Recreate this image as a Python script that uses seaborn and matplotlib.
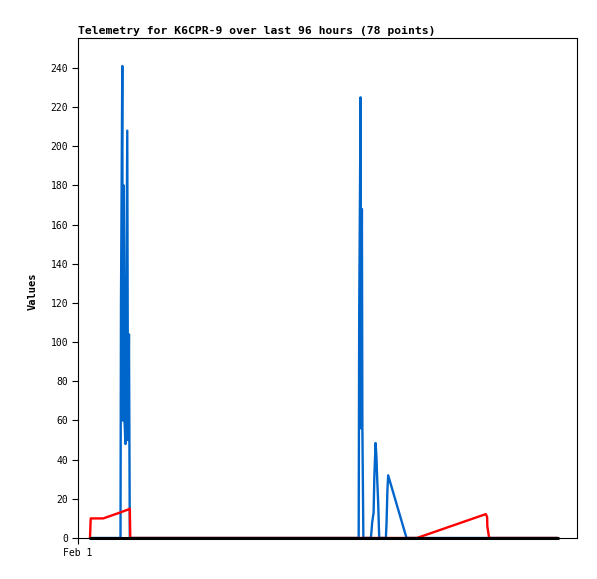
import numpy as np
import pandas as pd
import matplotlib
matplotlib.use("Agg")
import matplotlib.pyplot as plt
import seaborn as sns

# --- data (hours since Feb 1 00:00) ---
blue_hours = [2.46, 8.72, 8.82, 9.09, 9.19, 9.39, 9.54, 9.74, 10.11, 10.26, 10.46, 10.63,
              57.60, 57.70, 57.99, 58.07, 58.26, 58.36, 58.56,
              60.10, 60.21, 60.37, 60.66, 60.82, 61.07, 61.23, 61.40, 61.60, 61.81,
              63.18, 63.32, 63.49, 63.65, 67.42, 98.46]
blue_values = [0, 0, 120, 241, 60, 180, 60, 48, 208, 50, 104, 0,
               0, 112, 225, 56, 168, 56, 0,
               0, 3, 8, 13, 32, 48.5, 42, 30, 18, 0,
               0, 8, 24, 32, 0, 0]

red_hours = [2.46, 2.61, 5.19, 8.62, 10.26, 10.63, 10.73,
             69.54, 83.69, 83.96, 84.00, 84.37, 98.46]
red_values = [0, 10, 10, 13, 14.5, 15, 0,
              0, 12.2, 10.7, 6, 0, 0]

zero_hours = [2.46, 98.46]
zero_values = [0, 0]

x_tick_pos = [0]
x_tick_labels = ["Feb 1"]
y_ticks = list(range(0, 241, 20))

title = "Telemetry for K6CPR-9 over last 96 hours (78 points)"

# --- style ---
sns.set_style("ticks")
plt.rcParams['font.family'] = ['DejaVu Sans Mono', 'DejaVu Sans']
plt.rcParams['text.color'] = 'black'
plt.rcParams['axes.labelcolor'] = 'black'

fig = plt.figure(figsize=(5.97, 5.79), dpi=100)
ax = fig.add_axes([78 / 597, 1 - 538 / 579, 499 / 597, 500 / 579])

sns.lineplot(x=blue_hours, y=blue_values, color="#0066CC", linewidth=1.7,
             estimator=None, sort=False, ax=ax)
sns.lineplot(x=red_hours, y=red_values, color="#FF0000", linewidth=1.7,
             estimator=None, sort=False, ax=ax)
sns.lineplot(x=zero_hours, y=zero_values, color="black", linewidth=2.2,
             estimator=None, sort=False, ax=ax)
for ln in ax.lines:
    ln.set_clip_on(False)

ax.set_xlim(0, 102.4)
ax.set_ylim(0, 255.3)
ax.set_xticks(x_tick_pos)
ax.set_xticklabels(x_tick_labels)
ax.set_yticks(y_ticks)
ax.tick_params(axis='both', direction='out', length=4, width=0.8,
               colors='black', labelsize=7, pad=3)

for side in ["left", "right", "top", "bottom"]:
    ax.spines[side].set_visible(True)
    ax.spines[side].set_color("black")
    ax.spines[side].set_linewidth(0.8)

ax.set_title(title, loc='left', fontsize=8.2, fontweight='bold', pad=3, color='black')
ax.set_ylabel("Values", fontsize=7.5, fontweight='bold')
ax.yaxis.set_label_coords(-0.080, 0.493)
ax.set_xlabel("")

fig.savefig("out.png", dpi=100)
